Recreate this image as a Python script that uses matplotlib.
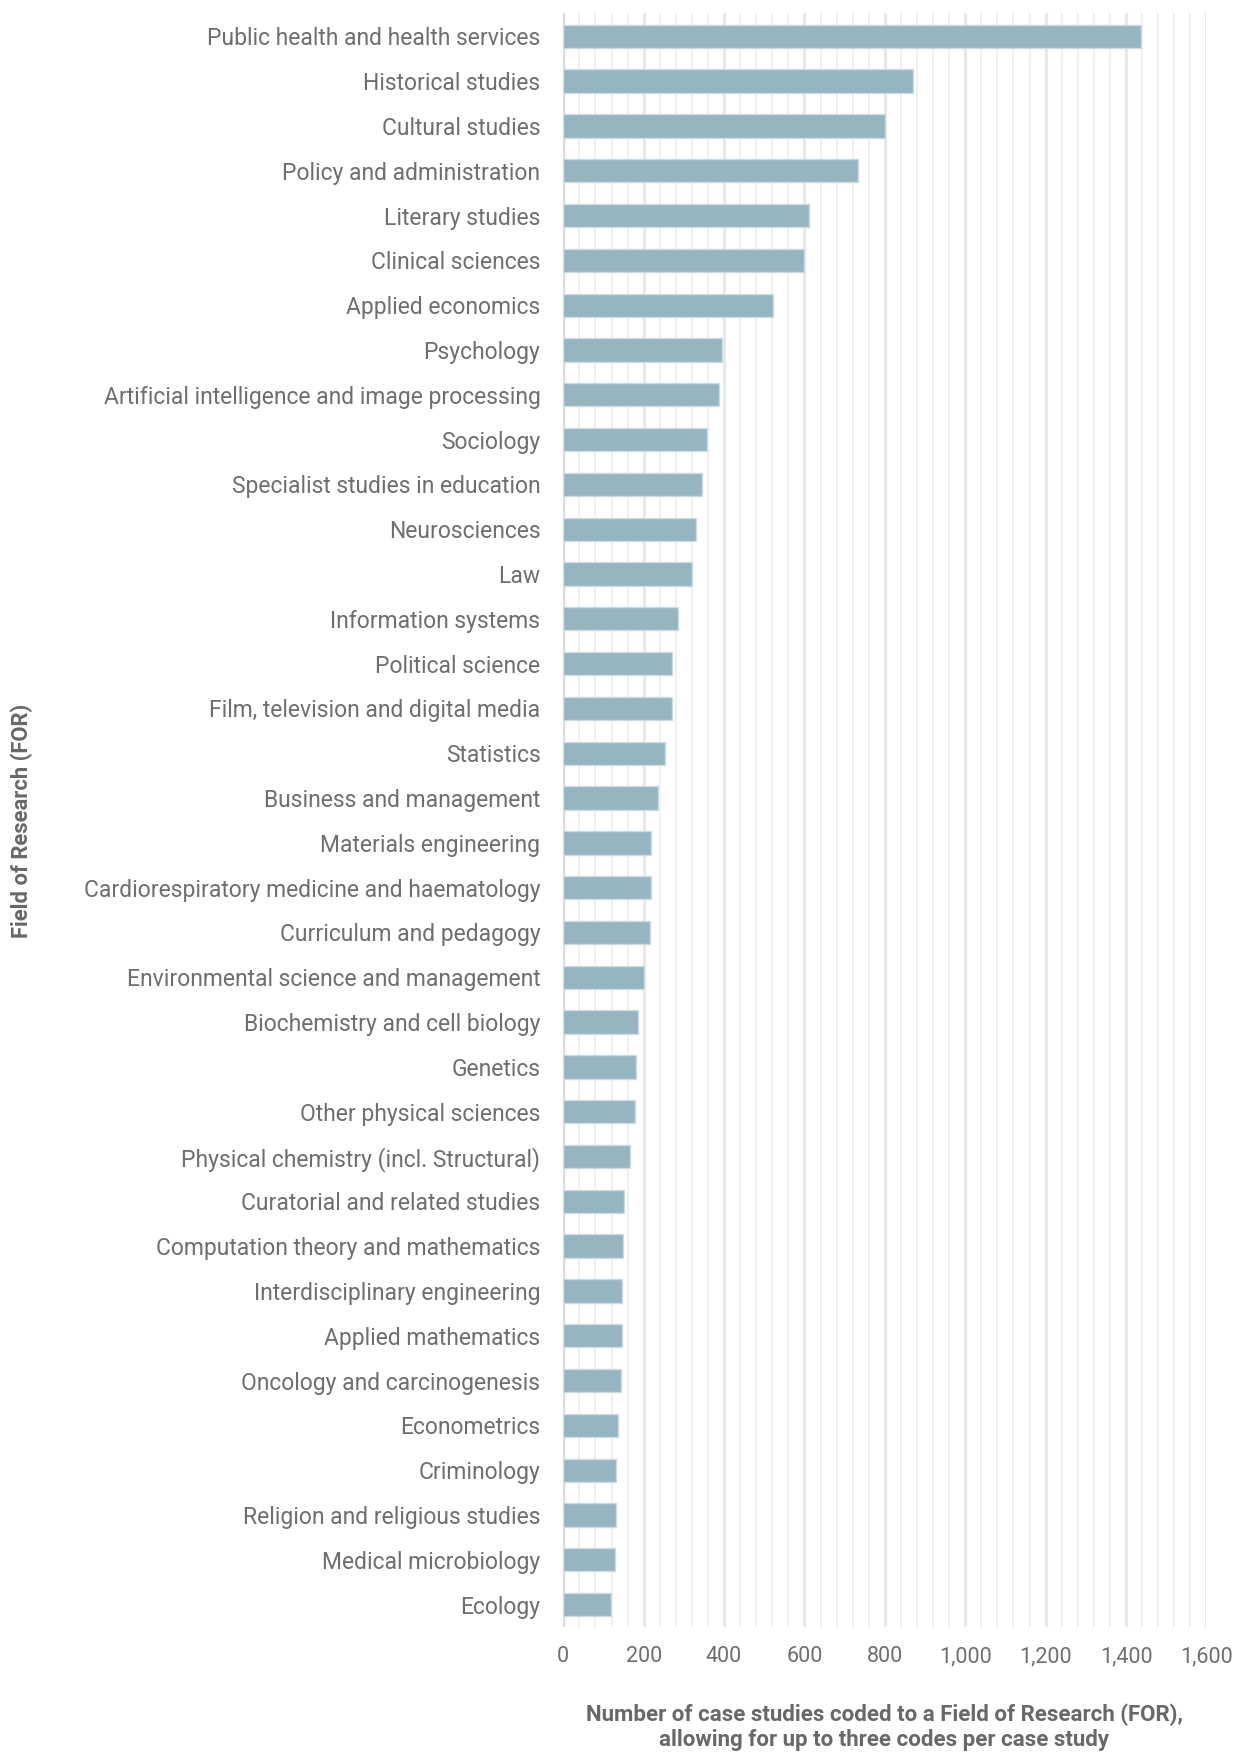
import matplotlib
matplotlib.use("Agg")
import matplotlib.pyplot as plt
import numpy as np
from matplotlib.ticker import MultipleLocator, FuncFormatter

plt.rcParams['font.family'] = ['Roboto', 'DejaVu Sans']

# data (top to bottom)
fields = [
    "Public health and health services", "Historical studies", "Cultural studies",
    "Policy and administration", "Literary studies", "Clinical sciences",
    "Applied economics", "Psychology", "Artificial intelligence and image processing",
    "Sociology", "Specialist studies in education", "Neurosciences", "Law",
    "Information systems", "Political science", "Film, television and digital media",
    "Statistics", "Business and management", "Materials engineering",
    "Cardiorespiratory medicine and haematology", "Curriculum and pedagogy",
    "Environmental science and management", "Biochemistry and cell biology",
    "Genetics", "Other physical sciences", "Physical chemistry (incl. Structural)",
    "Curatorial and related studies", "Computation theory and mathematics",
    "Interdisciplinary engineering", "Applied mathematics",
    "Oncology and carcinogenesis", "Econometrics", "Criminology",
    "Religion and religious studies", "Medical microbiology", "Ecology",
]
counts = [
    1437, 871, 801, 734, 611, 598, 522, 395, 388, 357, 344, 331, 321,
    286, 270, 270, 254, 235, 219, 219, 216, 200, 185, 181, 178, 166,
    152, 149, 147, 147, 143, 137, 131, 131, 128, 118,
]

W, H = 1237, 1753
fig = plt.figure(figsize=(W / 100, H / 100), dpi=100)
ax = fig.add_axes([563.3 / W, 1 - 1627 / H, 643.1 / W, 1614 / H])

y = np.arange(len(fields))
ax.barh(y, counts, height=0.52, color='#97b4c1', edgecolor='#cddbe2', linewidth=1, zorder=3)

ax.set_xlim(0, 1600)
ax.set_ylim(len(fields) - 0.5, -0.52)
ax.set_yticks(y)
ax.set_yticklabels(fields)

ax.xaxis.set_major_locator(MultipleLocator(200))
ax.xaxis.set_minor_locator(MultipleLocator(40))
ax.xaxis.set_major_formatter(FuncFormatter(lambda v, p: f"{int(v):,}"))
ax.grid(which='major', axis='x', color='#e8e8e8', linewidth=2.2, zorder=0)
ax.grid(which='minor', axis='x', color='#f0f0f0', linewidth=1.4, zorder=0)
ax.grid(axis='y', visible=False)
ax.axvline(0, color='#dcdcdc', linewidth=2.5, zorder=1)
ax.set_axisbelow(True)

for s in ax.spines.values():
    s.set_visible(False)
ax.tick_params(axis='both', which='both', length=0)
ax.tick_params(axis='y', pad=16.5, labelsize=16.5, labelcolor='#6e6e6e')
ax.tick_params(axis='x', pad=14, labelsize=15.5, labelcolor='#6e6e6e')

fig.text(884 / W, 1 - 1727 / H,
         "Number of case studies coded to a Field of Research (FOR),\nallowing for up to three codes per case study",
         ha='center', va='center', fontsize=16, fontweight='bold', color='#686868', linespacing=1.2)
fig.text(22 / W, 1 - 821 / H, "Field of Research (FOR)", rotation=90,
         ha='center', va='center', fontsize=15.8, fontweight='bold', color='#686868')

fig.savefig("out.png", dpi=100)
